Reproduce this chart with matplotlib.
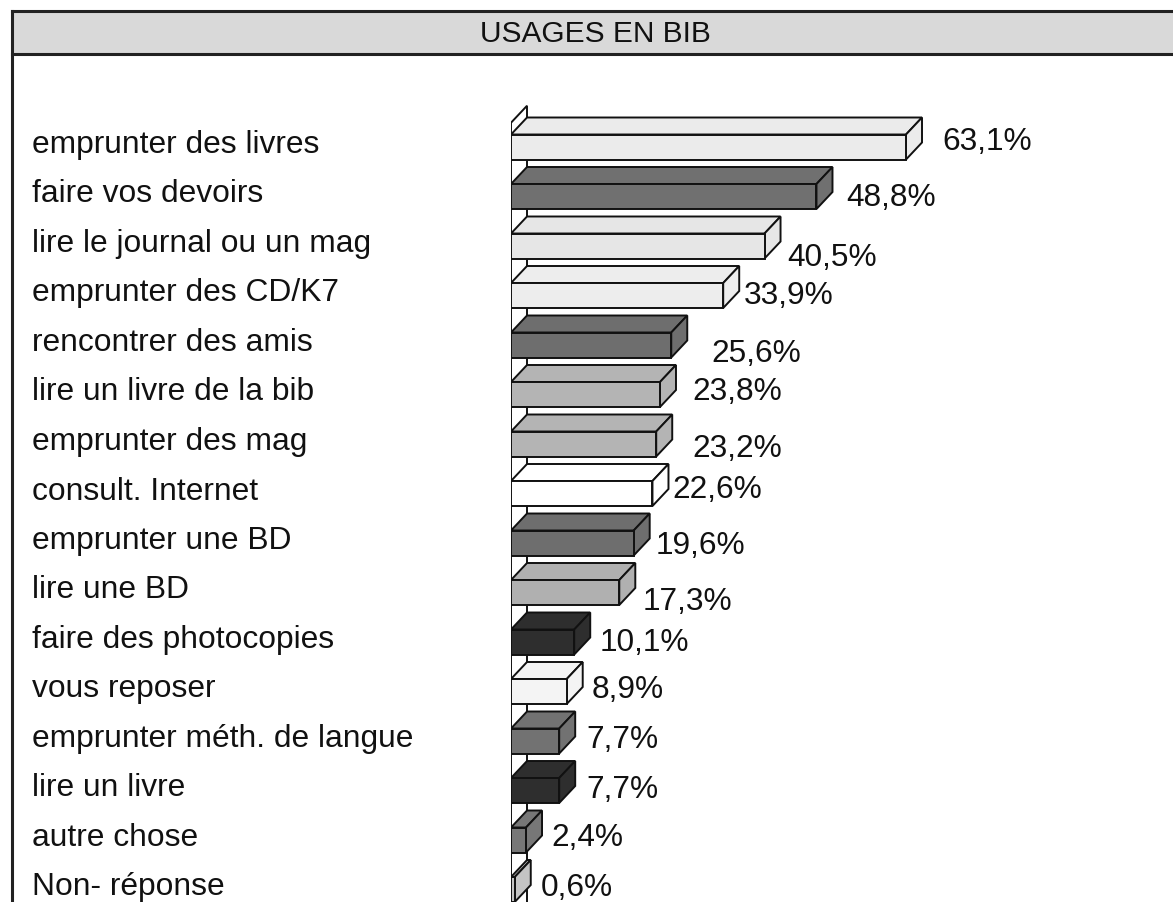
import matplotlib
matplotlib.use("Agg")
import matplotlib.pyplot as plt
from matplotlib.patches import Polygon, Rectangle
from matplotlib.lines import Line2D
import matplotlib.transforms as mtransforms

# ---------------- data ----------------
title = "USAGES EN BIB"
categories = [
    "emprunter des livres",
    "faire vos devoirs",
    "lire le journal ou un mag",
    "emprunter des CD/K7",
    "rencontrer des amis",
    "lire un livre de la bib",
    "emprunter des mag",
    "consult. Internet",
    "emprunter une BD",
    "lire une BD",
    "faire des photocopies",
    "vous reposer",
    "emprunter méth. de langue",
    "lire un livre",
    "autre chose",
    "Non- réponse",
]
values = [63.1, 48.8, 40.5, 33.9, 25.6, 23.8, 23.2, 22.6, 19.6, 17.3,
          10.1, 8.9, 7.7, 7.7, 2.4, 0.6]
value_labels = ["63,1%", "48,8%", "40,5%", "33,9%", "25,6%", "23,8%", "23,2%",
                "22,6%", "19,6%", "17,3%", "10,1%", "8,9%", "7,7%", "7,7%",
                "2,4%", "0,6%"]

# ---------------- styles ----------------
bar_colors = ["#ebebeb", "#707070", "#e6e6e6", "#ededed", "#6e6e6e", "#b4b4b4",
              "#b4b4b4", "#ffffff", "#6e6e6e", "#b0b0b0", "#2e2e2e", "#f4f4f4",
              "#727272", "#2e2e2e", "#777777", "#c4c4c4"]
# value-label offsets (pixels) relative to bar back end / row centre
label_dx_px = [20, 14, 7, 5, 24, 16, 20, 4, 6, 7, 9, 9, 11, 11, 9, 10]
label_dy_px = [-8, -1, 9, -3, 6, -5, 2, -7, 0, 6, -2, -4, -4, -4, -5, -5]

FONT = ["Liberation Sans", "DejaVu Sans"]
W, H, DPI = 1173, 902, 100
PT = 72.0 / DPI  # points per pixel

fig = plt.figure(figsize=(W / DPI, H / DPI), dpi=DPI)
fig.patch.set_facecolor("white")

# background axes in pixel units for the frame / title band
bg = fig.add_axes([0, 0, 1, 1], zorder=0)
bg.set_xlim(0, W)
bg.set_ylim(H, 0)
bg.axis("off")
bg.add_patch(Rectangle((12, 11), W - 12, 43, facecolor="#d9d9d9",
                       edgecolor="none"))
for seg in [((12, W), (11, 11)), ((12, W), (54, 54)), ((12, 12), (11, H))]:
    bg.add_line(Line2D(seg[0], seg[1], color="#222222", lw=2.2))
bg.text(595, 34, title, ha="center", va="center", fontsize=21.5,
        family=FONT, color="#111111")

# main axes: x = percent, y = row index
ax_left_px, px_per_pct, xmax = 511, 6.26, 100
row0_px, row_pitch, ax_top_px = 147, 49.5, 60
top_row = (ax_top_px - row0_px) / row_pitch
bottom_row = (H - row0_px) / row_pitch
ax = fig.add_axes([ax_left_px / W, 0, px_per_pct * xmax / W,
                   (H - ax_top_px) / H], zorder=1)
ax.set_xlim(0, xmax)
ax.set_ylim(bottom_row, top_row)
ax.axis("off")
ax.patch.set_alpha(0)

bar_h = 25 / row_pitch
depth_x = 16 / px_per_pct
depth_y = 17 / row_pitch
edge_kw = dict(edgecolor="#111111", linewidth=1.4, joinstyle="miter")

# left wall
wall_top = -0.49
ax.add_patch(Polygon([(0, bottom_row + 2), (0, wall_top),
                      (depth_x, wall_top - depth_y),
                      (depth_x, bottom_row + 2)],
                     closed=True, facecolor="white", **edge_kw))

for i, (v, c) in enumerate(zip(values, bar_colors)):
    top = i - bar_h / 2
    bot = i + bar_h / 2
    front = [(0, top), (v, top), (v, bot), (0, bot)]
    topf = [(0, top), (v, top), (v + depth_x, top - depth_y),
            (depth_x, top - depth_y)]
    side = [(v, top), (v + depth_x, top - depth_y),
            (v + depth_x, bot - depth_y), (v, bot)]
    for poly in (topf, side, front):
        ax.add_patch(Polygon(poly, closed=True, facecolor=c, **edge_kw))

# category labels
lab_tr = mtransforms.blended_transform_factory(bg.transData, ax.transData)
for i, name in enumerate(categories):
    ax.annotate(name, xy=(32, i), xycoords=lab_tr, xytext=(0, -6 * PT),
                textcoords="offset points", ha="left", va="baseline",
                fontsize=22.9, family=FONT, color="#111111",
                annotation_clip=False)

# value labels
for i, (v, txt) in enumerate(zip(values, value_labels)):
    ax.annotate(txt, xy=(v + depth_x, i), xycoords="data",
                xytext=(label_dx_px[i] * PT, -(label_dy_px[i] + 11) * PT),
                textcoords="offset points", ha="left", va="baseline",
                fontsize=22.8, family=FONT, color="#111111",
                annotation_clip=False)

fig.savefig("out.png", dpi=DPI, facecolor="white")
